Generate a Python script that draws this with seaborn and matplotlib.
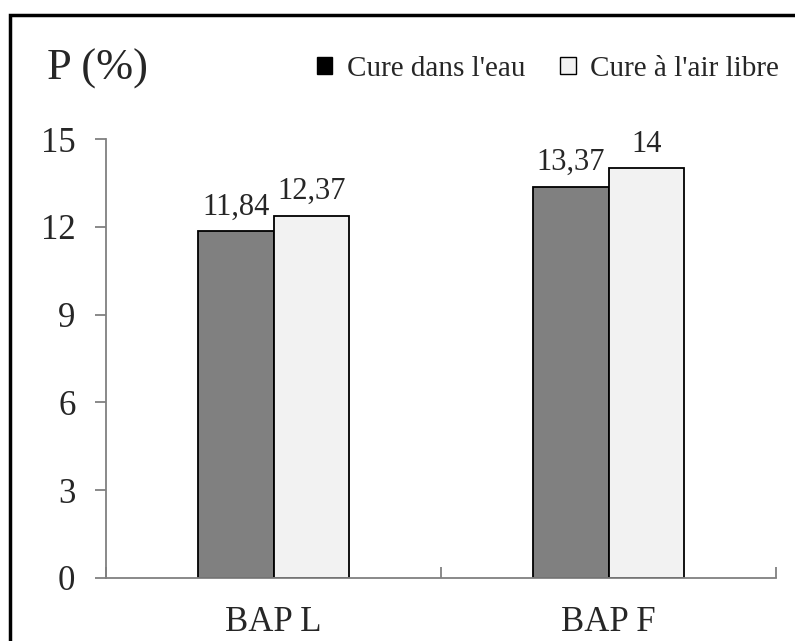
import matplotlib
matplotlib.use("Agg")
import matplotlib.pyplot as plt
from matplotlib.patches import Patch, Rectangle
import seaborn as sns
import pandas as pd

# data
categories = ["BAP L", "BAP F"]
series = ["Cure dans l'eau", "Cure à l'air libre"]
water_values = [11.84, 13.37]
air_values = [12.37, 14]
y_ticks = [0, 3, 6, 9, 12, 15]

df = pd.DataFrame({
    "Traitement": categories * 2,
    "Cure": [series[0]] * 2 + [series[1]] * 2,
    "P": water_values + air_values,
})

sns.set_style("white")
plt.rcParams["font.family"] = ["Liberation Serif", "DejaVu Serif"]

fig = plt.figure(figsize=(7.95, 6.41), dpi=100)
ax = fig.add_axes([106 / 795, 1 - 578 / 641, 670 / 795, (578 - 139) / 641])

colors = ["#808080", "#f2f2f2"]
sns.barplot(data=df, x="Traitement", y="P", hue="Cure", order=categories,
            hue_order=series, palette=colors, width=0.45, gap=0,
            edgecolor="black", linewidth=1.3, saturation=1, ax=ax,
            legend=False)

# value labels with comma decimals
for cont in ax.containers:
    labels = [f"{v:g}".replace(".", ",") for v in cont.datavalues]
    ax.bar_label(cont, labels=labels, padding=7, fontsize=22)

ax.set_ylim(0, 15)
ax.set_xlim(-0.5, 1.5)
ax.set_yticks(y_ticks)
ax.set_xticks([0, 1])
ax.set_xticklabels(categories)
ax.set_xticks([-0.5, 0.5, 1.5], minor=True)
ax.set_xlabel("")
ax.set_ylabel("")

for side in ["top", "right"]:
    ax.spines[side].set_visible(False)
for side in ["left", "bottom"]:
    ax.spines[side].set_color("#808080")
    ax.spines[side].set_linewidth(1.3)

ax.tick_params(axis="y", direction="out", length=8, width=1.3, color="#808080",
               labelsize=25, pad=14, left=True)
ax.tick_params(axis="x", which="major", length=0, labelsize=25, pad=20)
ax.tick_params(axis="x", which="minor", direction="in", length=8, width=1.3,
               color="#808080", bottom=True)

fig.text(47 / 795, 1 - 80 / 641, "P (%)", fontsize=32, ha="left", va="baseline")

handles = [Patch(facecolor="black", edgecolor="black"),
           Patch(facecolor=colors[1], edgecolor="black", linewidth=1)]
fig.legend(handles, series, loc="center right", bbox_to_anchor=(779 / 795, 1 - 69 / 641),
           ncol=2, frameon=False, fontsize=21, handlelength=0.52, handleheight=0.52,
           handletextpad=0.5, columnspacing=1.2, borderaxespad=0, borderpad=0)

# outer frame, cut off at right and bottom like the source
fig.patches.append(Rectangle((9.5 / 795, -0.2), 1.2, 1.2 - 15 / 641,
                             transform=fig.transFigure, fill=False,
                             edgecolor="black", linewidth=2.5))

fig.savefig("out.png", dpi=100)
